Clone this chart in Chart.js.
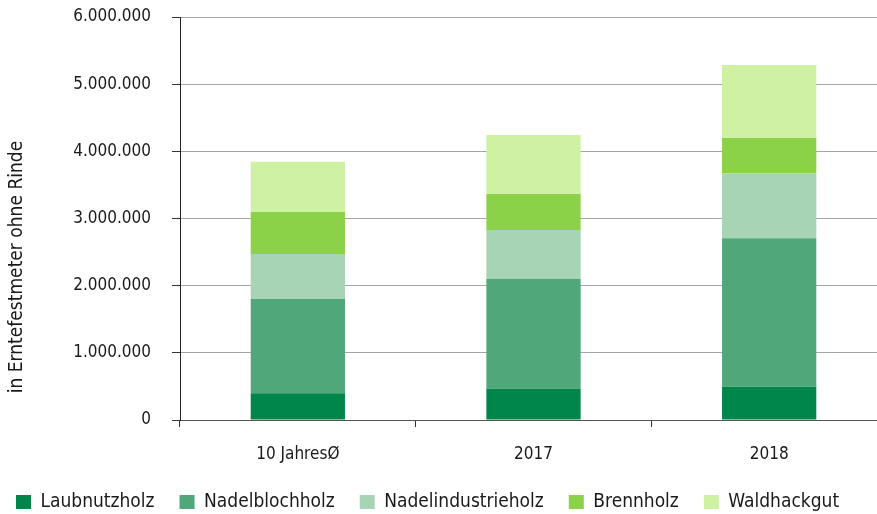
<!DOCTYPE html>
<html>
<head>
<meta charset="utf-8">
<script src="https://cdn.jsdelivr.net/npm/chart.js@4"></script>
<style>
html,body{margin:0;padding:0;background:#fff;overflow:hidden;}
#wrap{width:877px;height:514px;position:relative;overflow:hidden;}
canvas{display:block;}
</style>
</head>
<body>
<div id="wrap"><canvas id="c" width="887" height="514"></canvas></div>
<script>
const categories = ['10 JahresØ', '2017', '2018'];
const laubnutzholz = [400000, 466000, 496000];
const nadelblochholz = [1400000, 1638000, 2209000];
const nadelindustrieholz = [670000, 725000, 968000];
const brennholz = [626000, 536000, 525000];
const waldhackgut = [750000, 878000, 1087000];
const yTicks = [0, 1000000, 2000000, 3000000, 4000000, 5000000, 6000000];
const yTitle = 'in Erntefestmeter ohne Rinde';

const FONT = "'DejaVu Sans Condensed', 'Liberation Sans Narrow', sans-serif";
const TXT = '#1a1a1a';

function fmt(v){ return String(v).replace(/\B(?=(\d{3})+(?!\d))/g, '.'); }

const yTitlePlugin = {
  id: 'yTitle',
  afterDraw(chart){
    const ctx = chart.ctx;
    ctx.save();
    ctx.fillStyle = TXT;
    ctx.font = "19px " + FONT;
    ctx.textAlign = 'center';
    ctx.textBaseline = 'middle';
    ctx.translate(17, 267);
    ctx.rotate(-Math.PI/2);
    ctx.fillText(yTitle, 0, 0);
    ctx.restore();
  }
};

const mk = (label, data, color) => ({label, data, backgroundColor: color, borderWidth: 0, barPercentage: 0.4, categoryPercentage: 1});

new Chart(document.getElementById('c'), {
  type: 'bar',
  data: {
    labels: categories,
    datasets: [
      mk('Laubnutzholz', laubnutzholz, '#00854A'),
      mk('Nadelblochholz', nadelblochholz, '#50A87A'),
      mk('Nadelindustrieholz', nadelindustrieholz, '#A6D4B4'),
      mk('Brennholz', brennholz, '#8CD249'),
      mk('Waldhackgut', waldhackgut, '#CEF1A3')
    ]
  },
  options: {
    responsive: false,
    animation: false,
    layout: { padding: { left: -9, right: 0, top: 17, bottom: -7.5 } },
    plugins: {
      tooltip: { enabled: false },
      legend: {
        position: 'bottom',
        align: 'start',
        labels: {
          boxWidth: 15, boxHeight: 14, padding: 25,
          color: TXT,
          font: { family: FONT, size: 19 }
        }
      }
    },
    scales: {
      x: {
        stacked: true,
        grid: { display: true, drawOnChartArea: false, drawTicks: true, tickLength: 7, tickColor: '#333', offset: true },
        border: { display: true, color: '#555', width: 1 },
        ticks: { color: TXT, font: { family: FONT, size: 17 }, padding: 17, maxRotation: 0 },
        afterFit(s){ s.height = 47.5; }
      },
      y: {
        stacked: true,
        min: 0, max: 6000000,
        afterBuildTicks(s){ s.ticks = yTicks.map(v => ({value: v})); },
        grid: { color: '#a6a6a6', lineWidth: 1, tickLength: 8, tickColor: '#333', drawTicks: true },
        border: { display: true, color: '#222', width: 1 },
        ticks: { color: TXT, font: { family: FONT, size: 17 }, padding: 21, callback: v => fmt(v) },
        afterFit(s){ s.width = 189; s.paddingTop = 10; s.paddingBottom = 10; }
      }
    }
  },
  plugins: [yTitlePlugin]
});
</script>
</body>
</html>
